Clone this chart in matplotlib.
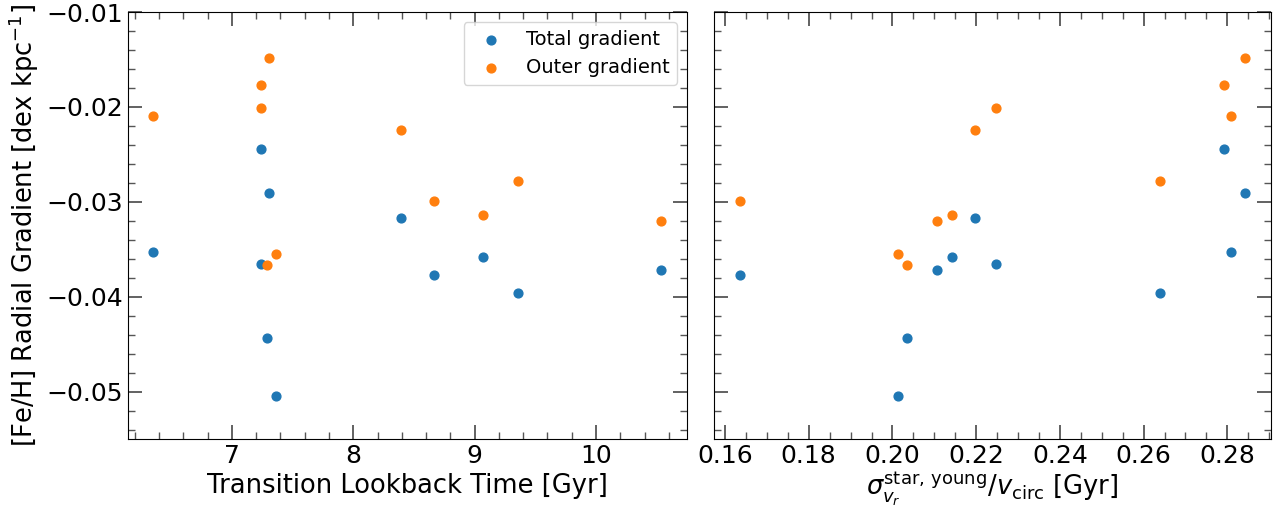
import matplotlib
matplotlib.use("Agg")
import matplotlib.pyplot as plt
from matplotlib.ticker import MultipleLocator

plt.rcParams["font.family"] = "DejaVu Sans"

# per-galaxy values, ordered by sigma
sigma_ratio = [0.1635, 0.2013, 0.2035, 0.2107, 0.2142, 0.2197, 0.2247, 0.2639, 0.2791, 0.2809, 0.2843]
lookback_time = [8.669, 7.363, 7.290, 10.534, 9.069, 8.392, 7.241, 9.356, 7.241, 6.353, 7.302]
total_grad = [-0.03774, -0.05045, -0.04438, -0.03714, -0.03581, -0.03170, -0.03658, -0.03963, -0.02443, -0.03524, -0.02903]
outer_grad = [-0.02990, -0.03549, -0.03665, -0.03205, -0.03142, -0.02246, -0.02007, -0.02776, -0.01765, -0.02095, -0.01480]

fig = plt.figure(figsize=(12.82, 5.09), dpi=100)
ax1 = fig.add_axes([0.0999, 0.1375, 0.436, 0.8387])
ax2 = fig.add_axes([0.5567, 0.1375, 0.4346, 0.8387], sharey=ax1)

for ax, x in [(ax1, lookback_time), (ax2, sigma_ratio)]:
    ax.scatter(x, total_grad, color='#1f77b4', s=40, label='Total gradient', zorder=3)
    ax.scatter(x, outer_grad, color='#ff7f0e', s=40, label='Outer gradient', zorder=3)
    ax.tick_params(which='both', direction='in', top=True, right=True, labelsize=18,
                   color='#555555')
    ax.tick_params(which='major', length=10, width=1.3)
    ax.tick_params(which='minor', length=5, width=1.0)
    ax.yaxis.set_major_locator(MultipleLocator(0.01))
    ax.yaxis.set_minor_locator(MultipleLocator(0.002))

ax1.set_ylim(-0.055, -0.01)
ax1.set_xlim(6.144, 10.75)
ax1.xaxis.set_major_locator(MultipleLocator(1))
ax1.xaxis.set_minor_locator(MultipleLocator(0.2))
ax1.set_xlabel('Transition Lookback Time [Gyr]', fontsize=18.5)
ax1.set_ylabel(r'[Fe/H] Radial Gradient [dex kpc$^{-1}$]', fontsize=18.5)
ax1.legend(loc='upper right', fontsize=14)

ax2.set_xlim(0.1573, 0.2904)
ax2.xaxis.set_major_locator(MultipleLocator(0.02))
ax2.xaxis.set_minor_locator(MultipleLocator(0.005))
ax2.tick_params(labelleft=False)
ax2.set_xlabel(r'$\sigma_{v_r}^{\rm star,\,young}/v_{\rm circ}$ [Gyr]', fontsize=18.5,
               labelpad=1.5)

fig.savefig('out.png', dpi=100)
